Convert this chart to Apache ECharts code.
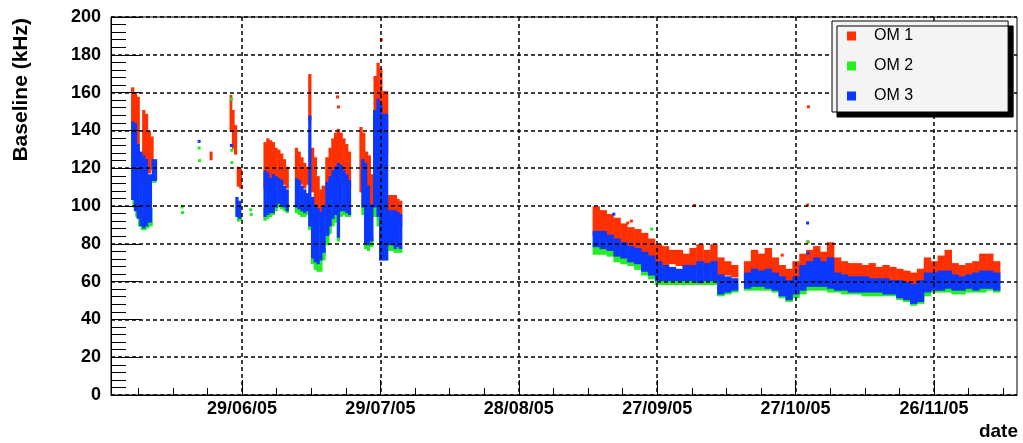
<!DOCTYPE html>
<html>
<head>
<meta charset="utf-8">
<script src="https://cdn.jsdelivr.net/npm/echarts@6/dist/echarts.min.js"></script>
<style>
  html, body { margin: 0; padding: 0; background: #fff; }
  #chart { width: 1023px; height: 443px; }
</style>
</head>
<body>
<div id="chart"></div>
<script>
// x values are days since 2005-05-30 (so 29/06/05 = 30, 29/07/05 = 60, ...)
const majorTicks = [30, 60, 90, 120, 150, 180];
const tickLabels = ['29/06/05', '29/07/05', '28/08/05', '27/09/05', '27/10/05', '26/11/05'];
const minorTicks = [7.5, 15, 22.5, 37.5, 45, 52.5, 67.5, 75, 82.5, 97.5, 105, 112.5,
                    127.5, 135, 142.5, 157.5, 165, 172.5, 187.5, 195];
const seriesNames = ['OM 1', 'OM 2', 'OM 3'];

// Baseline runs: [day, lowest kHz, highest kHz] — dense stretches of samples
const om1Runs = [
  [6.3,126,162],[6.9,120,159],[7.5,118,157],[8.1,110,125],[8.7,112,150],[9.3,113,148],[9.9,118,139],[10.5,120,136],
  [23.3,125,128],
  [27.6,140,158],[28.1,131,150],[28.6,128,142],[29.2,111,120],[29.7,110,119],
  [35.0,110,133],[35.6,112,135],[36.2,115,134],[36.8,113,133],[37.4,116,130],[38.0,114,129],[38.6,114,127],[39.2,112,124],[39.8,110,120],
  [41.8,115,130],[42.4,113,128],[43.0,112,125],[43.6,110,122],[44.2,112,120],
  [44.7,146,169],[45.3,108,130],[45.9,100,125],[46.5,95,115],[47.1,92,108],[47.7,95,110],
  [48.5,100,125],[49.1,105,130],[49.7,108,135],[50.3,110,138],[50.9,112,140],[51.5,114,138],[52.1,113,135],[52.7,112,132],[53.3,110,128],
  [55.8,108,141],[56.4,104,138],[57.0,100,128],[57.6,100,126],[58.2,101,116],
  [58.9,140,168],[59.5,145,175],[60.1,140,172],[60.7,128,160],
  [62.6,92,105],[63.2,90,104],[63.8,89,103],[64.4,90,102],
  [106.8,85,99],[108.3,84,97],[109.8,83,95],[111.3,80,93],[112.8,79,90],[114.3,78,88],[115.8,76,87],[117.3,75,85],
  [118.8,73,82],[120.3,70,79],[121.8,69,78],[123.3,70,76],[124.8,69,76],[126.3,68,74],[127.8,68,77],[129.3,67,79],
  [130.8,67,76],[132.3,67,79],[133.8,64,72],[135.3,64,70],[136.8,63,68],
  [139.6,62,70],[141.1,64,76],[142.6,65,74],[144.1,64,77],[145.6,62,72],[147.1,60,68],[148.6,58,66],[150.1,62,70],
  [151.6,63,74],[153.1,64,76],[154.6,64,78],[156.1,63,75],[157.6,63,80],[159.1,63,72],[160.6,62,70],[162.1,62,69],
  [163.6,62,69],[165.1,62,68],[166.6,61,69],[168.1,61,67],[169.6,61,68],[171.1,60,67],[172.6,60,66],[174.1,58,65],
  [175.6,57,64],[177.1,59,66],[178.6,61,72],[180.1,62,70],[181.6,62,73],[183.1,63,76],[184.6,62,69],[186.1,62,68],
  [187.6,62,69],[189.1,62,70],[190.6,64,74],[192.1,63,74],[193.6,61,70]
];
const om2Runs = [
  [6.6,100,108],[7.2,95,100],[7.8,90,96],[8.4,88,93],[9.0,88,92],[9.6,89,95],[10.2,90,98],[11.0,113,118],
  [29.2,92.5,95],[29.7,93,95],
  [35.0,93,98],[35.6,94,97],[36.2,95,100],[36.8,96,100],[37.4,98,103],[38.0,100,105],[38.6,99,104],[39.2,98,102],[39.8,97,100],
  [41.8,97,100],[42.4,96,99],[43.0,95,98],[43.6,95,97],[44.2,96,98],
  [44.7,88,95],[45.3,70,78],[45.9,67,74],[46.5,66,72],[47.1,66,73],[47.7,72,77],
  [48.5,80,88],[49.1,86,92],[49.7,90,96],[50.3,92,97],[50.9,82,96],[51.5,95,99],[52.1,96,99],[52.7,95,98],[53.3,95,97],
  [56.2,96,100],[56.8,78,82],[57.4,77,81],[58.0,79,83],
  [58.9,95,100],[59.5,90,98],[60.1,82,90],[60.7,72,80],
  [62.6,77,80],[63.2,76,79],[63.8,76,78],[64.4,76,78],
  [106.8,75,80],[108.3,75,79],[109.8,74,78],[111.3,71,76],[112.8,70,74],[114.3,69,72],[115.8,67,71],[117.3,64,68],
  [118.8,62,66],[120.3,59,63],[121.8,59,62],[123.3,59,61],[124.8,59,61],[126.3,59,62],[127.8,59,62],[129.3,59,62],
  [130.8,59,62],[132.3,59,62],[133.8,53,57],[135.3,54,56],[136.8,55,57],
  [139.6,56,58],[141.1,56,59],[142.6,56,58],[144.1,56,58],[145.6,55,57],[147.1,52,55],[148.6,50,53],[150.1,52,55],
  [151.6,54,57],[153.1,56,59],[154.6,56,58],[156.1,56,58],[157.6,55,58],[159.1,55,57],[160.6,54,56],[162.1,54,56],
  [163.6,54,56],[165.1,53,56],[166.6,53,55],[168.1,53,55],[169.6,53,55],[171.1,53,55],[172.6,51,54],[174.1,50,52],
  [175.6,48,51],[177.1,49,52],[178.6,53,56],[180.1,55,57],[181.6,55,57],[183.1,55,58],[184.6,54,57],[186.1,54,56],
  [187.6,55,57],[189.1,55,57],[190.6,55,58],[192.1,56,58],[193.6,55,57]
];
const om3Runs = [
  [6.3,104,144],[6.9,98,143],[7.5,94,132],[8.1,90,128],[8.7,89,126],[9.3,90,124],[9.9,92,116],[11.0,114,124],
  [28.9,95,104],[29.5,94,102],
  [35.0,95,118],[35.6,96,117],[36.2,97,114],[36.8,97,116],[37.4,100,115],[38.0,102,114],[38.6,101,113],[39.2,100,110],[39.8,98,108],
  [41.8,100,114],[42.4,99,113],[43.0,98,110],[43.6,97,108],[44.2,98,106],
  [44.7,90,147],[45.3,73,104],[45.9,71,100],[46.5,70,98],[47.1,72,96],[47.7,76,99],
  [48.5,85,112],[49.1,90,115],[49.7,94,118],[50.3,96,120],[50.9,84,122],[51.5,98,121],[52.1,98,118],[52.7,97,116],[53.3,96,113],
  [56.2,100,124],[56.8,81,122],[57.4,80,110],[58.0,82,100],
  [58.9,100,150],[59.5,95,156],[60.1,85,153],[60.7,72,148],
  [62.6,80,97],[63.2,78,95],[63.8,79,96],[64.4,78,95],
  [106.8,79,86],[108.3,78,86],[109.8,77,84],[111.3,74,82],[112.8,73,80],[114.3,71,78],[115.8,70,77],[117.3,66,75],
  [118.8,64,73],[120.3,61,70],[121.8,61,68],[123.3,61,67],[124.8,61,66],[126.3,61,68],[127.8,61,68],[129.3,60,70],
  [130.8,61,69],[132.3,61,70],[133.8,54,63],[135.3,55,62],[136.8,56,61],
  [139.6,57,64],[141.1,58,66],[142.6,58,65],[144.1,57,66],[145.6,56,64],[147.1,53,62],[148.6,51,60],[150.1,54,62],
  [151.6,56,68],[153.1,58,70],[154.6,58,72],[156.1,58,70],[157.6,57,72],[159.1,56,64],[160.6,56,63],[162.1,55,62],
  [163.6,55,62],[165.1,55,62],[166.6,55,61],[168.1,55,61],[169.6,54,61],[171.1,54,60],[172.6,52,60],[174.1,51,59],
  [175.6,49,58],[177.1,50,60],[178.6,55,64],[180.1,56,64],[181.6,56,65],[183.1,57,65],[184.6,56,63],[186.1,56,62],
  [187.6,57,63],[189.1,56,64],[190.6,57,65],[192.1,57,65],[193.6,56,64]
];

// Isolated samples: [day, kHz]
const om1Dots = [[50.7,157.7],[50.9,152.4],[60.2,188],[113.6,91],[114.4,92],[128.1,100.3],[147.1,74],[152.6,100.5],[152.7,81],[152.8,152.5]];
const om2Dots = [[17.0,99.5],[17.1,96.5],[20.7,130.7],[20.8,124],[27.7,156.5],[27.8,129.5],[27.8,123],[31.9,98],[32.0,95.5],[118.8,87.8],[152.6,81]];
const om3Dots = [[20.7,134.2],[27.7,132],[110.6,95.7],[152.6,91],[152.7,75]];

const colors = ['#ff3000', '#22ee22', '#0a38ff'];
const FONT = 'Liberation Sans';

// Each run is a vertical strip; neighbouring runs closer than a few pixels join up.
function runRenderer(runs, color) {
  return function (params, api) {
    const i = params.dataIndex;
    const x = api.value(0);
    const top = api.coord([x, api.value(2)]);
    const bot = api.coord([x, api.value(1)]);
    const gaps = [];
    if (i > 0) gaps.push(top[0] - api.coord([runs[i - 1][0], 0])[0]);
    if (i < runs.length - 1) gaps.push(api.coord([runs[i + 1][0], 0])[0] - top[0]);
    const near = gaps.filter(g => g >= 2 && g <= 9);
    const w = near.length ? Math.max.apply(null, near) + 0.5 : 3;
    return {
      type: 'rect',
      shape: { x: top[0] - w / 2, y: top[1] - 1.5, width: w, height: bot[1] - top[1] + 3 },
      style: { fill: color }
    };
  };
}

function runSeries(name, runs, color) {
  return {
    name: name, type: 'custom', data: runs,
    encode: { x: 0, y: [1, 2] },
    itemStyle: { color: color },
    renderItem: runRenderer(runs, color)
  };
}
function dotSeries(name, dots, color) {
  return {
    name: name, type: 'scatter', data: dots,
    symbol: 'rect', symbolSize: 3,
    itemStyle: { color: color, opacity: 1 }
  };
}

const axisTextStyle = { fontFamily: FONT, fontWeight: 'bold', fontSize: 18, color: '#000' };
const gridDash = { color: '#000', type: [4, 3], width: 1.5 };

const option = {
  animation: false,
  backgroundColor: '#fff',
  grid: {
    left: 111, top: 17, right: 6, bottom: 48,
    show: true, borderColor: '#000', borderWidth: 1, backgroundColor: 'transparent'
  },
  xAxis: [
    {
      type: 'value', min: 1.6, max: 198, position: 'bottom', z: 5,
      axisLine: { show: true, lineStyle: { color: '#000', width: 1 } },
      axisTick: { show: true, inside: true, length: 15, customValues: majorTicks, lineStyle: { color: '#000', width: 1 } },
      axisLabel: Object.assign({
        customValues: majorTicks, margin: 5,
        formatter: v => tickLabels[majorTicks.indexOf(v)]
      }, axisTextStyle),
      splitLine: { show: true, lineStyle: gridDash }
    },
    {
      type: 'value', min: 1.6, max: 198, position: 'bottom', z: 5,
      axisLine: { show: false },
      axisTick: { show: true, inside: true, length: 7, customValues: minorTicks, lineStyle: { color: '#000', width: 1 } },
      axisLabel: { show: false },
      splitLine: { show: false }
    }
  ],
  yAxis: {
    type: 'value', min: 0, max: 200, interval: 20, z: 5,
    axisLine: { show: true, lineStyle: { color: '#000', width: 1 } },
    axisTick: { show: true, inside: true, length: 30, lineStyle: { color: '#000', width: 1 } },
    minorTick: { show: true, splitNumber: 5, length: 15, lineStyle: { color: '#000', width: 1 } },
    axisLabel: Object.assign({ margin: 10 }, axisTextStyle),
    splitLine: { show: true, lineStyle: gridDash }
  },
  legend: {
    data: seriesNames,
    left: 832, top: 21, orient: 'vertical', z: 10,
    icon: 'rect', itemWidth: 9, itemHeight: 9, itemGap: 14,
    padding: [7, 95, 8, 15],
    backgroundColor: '#f4f4f4', borderColor: '#000', borderWidth: 1,
    shadowColor: '#000', shadowBlur: 0, shadowOffsetX: 5, shadowOffsetY: 5,
    selectedMode: false,
    textStyle: { fontFamily: FONT, fontSize: 16, color: '#000', lineHeight: 16, padding: [0, 0, 0, 13] }
  },
  graphic: [
    {
      type: 'text', x: 21, y: 18, rotation: Math.PI / 2, z: 10,
      style: { text: 'Baseline (kHz)', font: 'bold 21px "Liberation Sans"', fill: '#000', align: 'right', verticalAlign: 'middle' }
    },
    {
      type: 'text', x: 1018, y: 432, z: 10,
      style: { text: 'date', font: 'bold 19px "Liberation Sans"', fill: '#000', align: 'right', verticalAlign: 'middle' }
    }
  ],
  series: [
    runSeries(seriesNames[0], om1Runs, colors[0]),
    dotSeries(seriesNames[0], om1Dots, colors[0]),
    runSeries(seriesNames[1], om2Runs, colors[1]),
    dotSeries(seriesNames[1], om2Dots, colors[1]),
    runSeries(seriesNames[2], om3Runs, colors[2]),
    dotSeries(seriesNames[2], om3Dots, colors[2])
  ]
};

const chart = echarts.init(document.getElementById('chart'), null, { renderer: 'canvas' });
chart.setOption(option);
</script>
</body>
</html>
